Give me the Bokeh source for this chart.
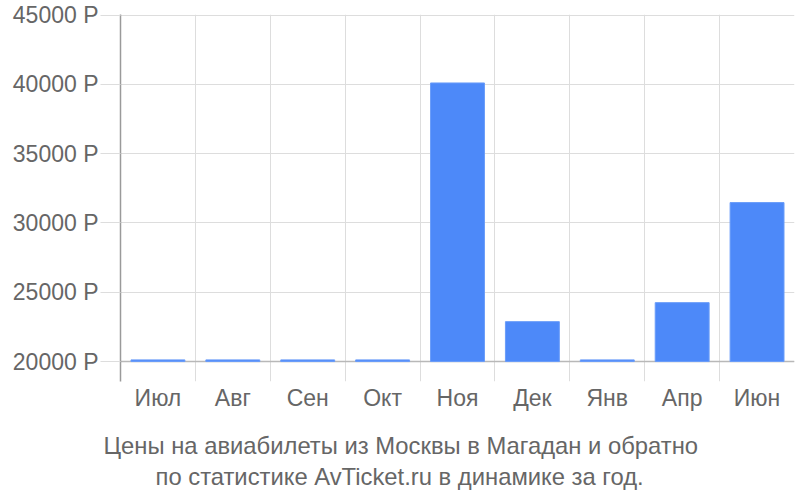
from bokeh.plotting import figure
from bokeh.models import FixedTicker, PrintfTickFormatter, Range1d, Span, Title
from bokeh.embed import file_html
from bokeh.resources import INLINE

months = ["Июл", "Авг", "Сен", "Окт", "Ноя", "Дек", "Янв", "Апр", "Июн"]
prices = [20120, 20120, 20120, 20120, 40100, 22880, 20120, 24250, 31470]
y_ticks = [20000, 25000, 30000, 35000, 40000, 45000]
caption = ["Цены на авиабилеты из Москвы в Магадан и обратно",
           "по статистике AvTicket.ru в динамике за год."]
caption_offsets = [-17, 35]
caption_pads = [(0, 0, 16, 0), (0, 0, 2, 0)]

FONT = "Liberation Sans"
TXT = "#666666"

n = len(months)
centers = [i + 0.5 for i in range(n)]

p = figure(width=800, height=500, output_backend="svg", toolbar_location=None,
           x_range=Range1d(0, n), y_range=Range1d(18560, 45040),
           min_border_left=120, min_border_right=6, min_border_top=14,
           min_border_bottom=119)
p.outline_line_color = None
p.background_fill_color = "white"

p.vbar(x=centers, top=prices, bottom=y_ticks[0], width=0.72,
       fill_color="#4d89f9", line_color="#6a9cf9", line_width=1)

base = Span(location=y_ticks[0], dimension="width", line_color="#b8b8b8",
            line_width=1.5, level="underlay")
p.add_layout(base)

# y axis
p.yaxis.ticker = FixedTicker(ticks=y_ticks)
p.yaxis.formatter = PrintfTickFormatter(format="%d Р")
p.yaxis.axis_line_color = "#9a9a9a"
p.yaxis.axis_line_width = 1.5
p.yaxis.major_tick_in = 0
p.yaxis.major_tick_out = 20
p.yaxis.major_tick_line_color = "#dddddd"
p.yaxis.minor_tick_line_color = None
p.yaxis.major_label_standoff = 2
p.yaxis.major_label_text_font = FONT
p.yaxis.major_label_text_font_size = "23px"
p.yaxis.major_label_text_color = TXT
p.ygrid.ticker = FixedTicker(ticks=y_ticks)
p.ygrid.grid_line_color = "#dddddd"

# x axis
p.xaxis.ticker = FixedTicker(ticks=centers)
p.xaxis.major_label_overrides = {c: m for c, m in zip(centers, months)}
p.xaxis.axis_line_color = None
p.xaxis.major_tick_line_color = None
p.xaxis.minor_tick_line_color = None
p.xaxis.major_tick_in = 0
p.xaxis.major_tick_out = 0
p.xaxis.major_label_standoff = 3
p.xaxis.major_label_text_font = FONT
p.xaxis.major_label_text_font_size = "23px"
p.xaxis.major_label_text_color = TXT
p.xgrid.ticker = FixedTicker(ticks=list(range(n + 1)))
p.xgrid.grid_line_color = "#dddddd"

for line, off, pad in zip(caption, caption_offsets, caption_pads):
    t = Title(text=line, align="left", offset=off, standoff=0, padding=pad,
              text_font=FONT, text_font_size="23.8px", text_color=TXT,
              text_font_style="normal")
    p.add_layout(t, "below")

open("out.html", "w").write(file_html(p, INLINE))
